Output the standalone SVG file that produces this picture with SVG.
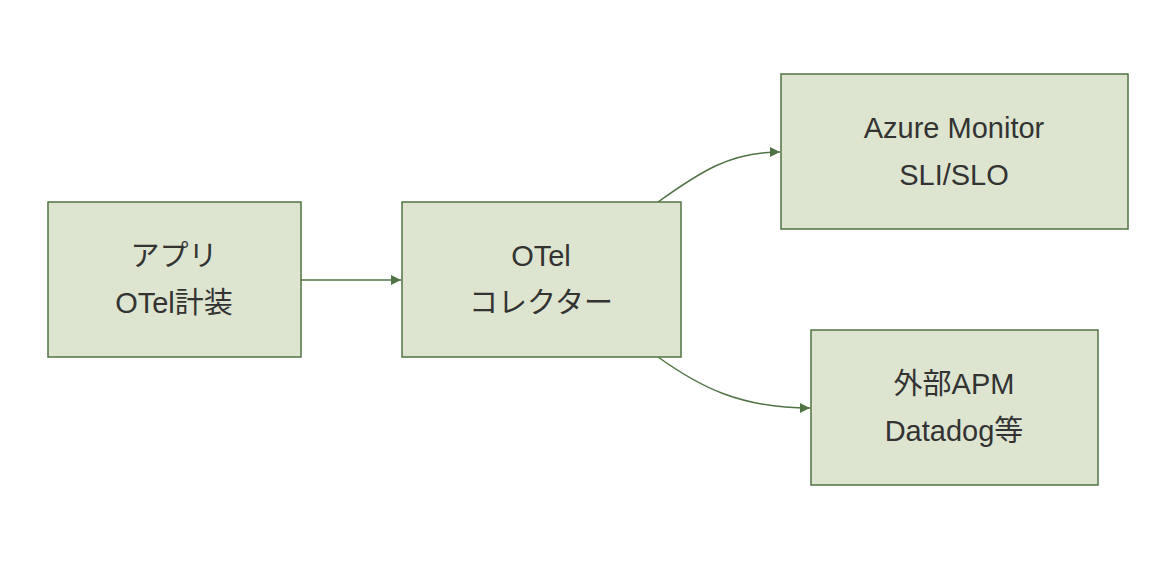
<svg xmlns="http://www.w3.org/2000/svg" width="1176" height="564" viewBox="0 0 1176 564">
<style>
.n rect{fill:#dde5d0;stroke:#4f7344;stroke-width:1.5}
.n text{font-family:"Liberation Sans","Noto Sans CJK JP",sans-serif;font-size:29px;fill:#333;text-anchor:middle}
.c path{fill:none;stroke:#4f7344;stroke-width:1.5}
</style>
<defs><marker id="a" viewBox="0 0 10 10" refX="10" refY="5" markerWidth="10" markerHeight="10" markerUnits="userSpaceOnUse" orient="auto"><path d="M0,0L10,5L0,10z" fill="#4f7344"/></marker></defs>
<rect width="1176" height="564" fill="#fff"/>
<g class="c">
<path d="M301,280H401" marker-end="url(#a)"/>
<path d="M658,202C700,172 730,152 780,152" marker-end="url(#a)"/>
<path d="M658,357C700,387 740,408 810,408" marker-end="url(#a)"/>
</g>
<g id="app" class="n"><rect x="48" y="202" width="253" height="155"/><text x="174" y="266">アプリ</text><text x="174" y="313">OTel計装</text></g>
<g id="col" class="n"><rect x="402" y="202" width="279" height="155"/><text x="541" y="266">OTel</text><text x="541" y="313">コレクター</text></g>
<g id="az" class="n"><rect x="781" y="74" width="347" height="155"/><text x="954" y="138">Azure Monitor</text><text x="954" y="185">SLI/SLO</text></g>
<g id="apm" class="n"><rect x="811" y="330" width="287" height="155"/><text x="954" y="394">外部APM</text><text x="954" y="441">Datadog等</text></g>
</svg>
